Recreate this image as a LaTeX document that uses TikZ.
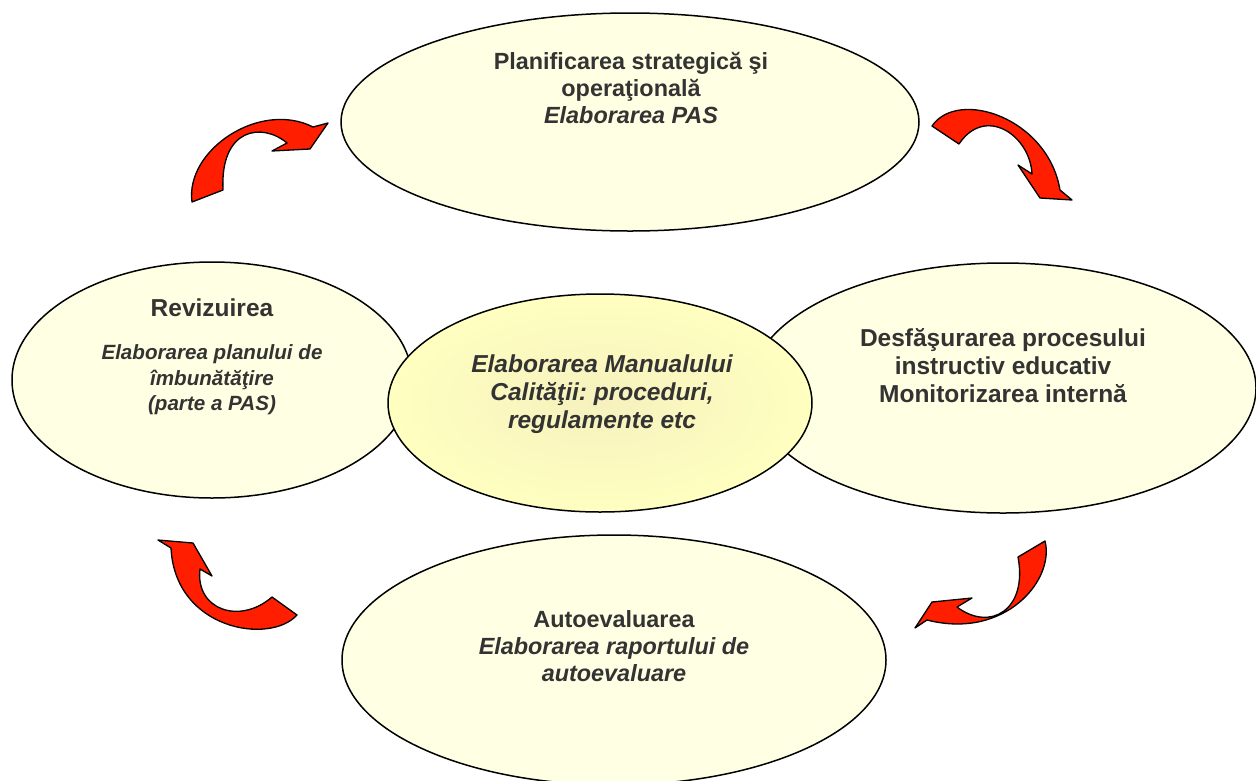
\documentclass[tikz,border=0pt]{standalone}
\usepackage{fontspec}
\setmainfont{Liberation Sans}
\frenchspacing
\usetikzlibrary{shapes.geometric}

\definecolor{cream}{HTML}{FFFFE3}
\definecolor{coreIn}{HTML}{F6F1BE}
\definecolor{coreOut}{HTML}{FFFFC0}
\definecolor{ink}{HTML}{333333}
\definecolor{arrowred}{HTML}{FF1E00}

\begin{document}
\begin{tikzpicture}[x=1pt, y=-1pt,
  stage/.style = {draw, ellipse, line width=1.5pt, fill=cream, inner sep=0pt},
  core/.style  = {draw, ellipse, line width=1.5pt, inner color=coreIn, outer color=coreOut, inner sep=0pt},
  txt/.style   = {align=center, text=ink, inner sep=0pt},
  big/.style   = {font=\fontsize{24.5}{28}\selectfont\bfseries},
  bigit/.style = {font=\fontsize{24.5}{28}\selectfont\bfseries\itshape},
  mid/.style   = {font=\fontsize{23.4}{27}\selectfont\bfseries},
  turn/.style  = {draw, fill=arrowred, line width=1.3pt, line join=round}]
\useasboundingbox (0,0) rectangle (1256,780);

% the five stages
\node[stage, minimum width=578pt, minimum height=218pt] (plan) at (630,122) {};
\node[stage, minimum width=544pt, minimum height=250pt] (auto) at (614,660) {};
\node[stage, minimum width=400pt, minimum height=236pt] (rev)  at (212,380) {};
\node[stage, minimum width=506pt, minimum height=250pt] (desf) at (1003,388) {};
\node[core,  minimum width=424pt, minimum height=218pt] (man)  at (600,403) {};

% texts
\node[txt, mid] (plantxt) at (631,88) {Planificarea strategică şi\\operaţională\\\textit{Elaborarea PAS}};
\node[txt, big] (revhead) at (212,308) {Revizuirea};
\node[txt, font=\fontsize{20.6}{25.5}\selectfont\bfseries\itshape] (revtxt) at (212,380)
  {Elaborarea planului de\\îmbunătăţire\\(parte a PAS)};
\node[txt, big] (desftxt) at (1003,366) {Desfăşurarea procesului\\instructiv educativ\\Monitorizarea internă};
\node[txt, bigit] (mantxt) at (602,394) {Elaborarea Manualului\\Calităţii: proceduri,\\regulamente etc};
\node[txt, mid] (autotxt) at (614,646) {Autoevaluarea\\\textit{Elaborarea raportului de}\\\textit{autoevaluare}};

% curved block arrows
\filldraw[turn] (192,202) .. controls (185,150) and (260,100) .. (313,127)
  -- (328,123) -- (310,149) -- (272,151) -- (287,143)
  .. controls (262,122) and (220,128) .. (223,190) -- cycle;
\filldraw[turn] (932,126) .. controls (958,88) and (1048,118) .. (1060,190)
  -- (1072,200) -- (1040,198) -- (1018,165) -- (1032,174)
  .. controls (1030,135) and (985,105) .. (959,144) -- cycle;
\filldraw[turn] (1045,541) .. controls (1055,580) and (1005,640) .. (927,620)
  -- (915,628) -- (932,602) -- (972,598) -- (957,607)
  .. controls (990,632) and (1028,610) .. (1018,557) -- cycle;
\filldraw[turn] (297,615) .. controls (270,645) and (175,630) .. (171,548)
  -- (158,540) -- (193,543) -- (212,576) -- (200,569)
  .. controls (195,610) and (240,625) .. (272,597) -- cycle;
\end{tikzpicture}
\end{document}
